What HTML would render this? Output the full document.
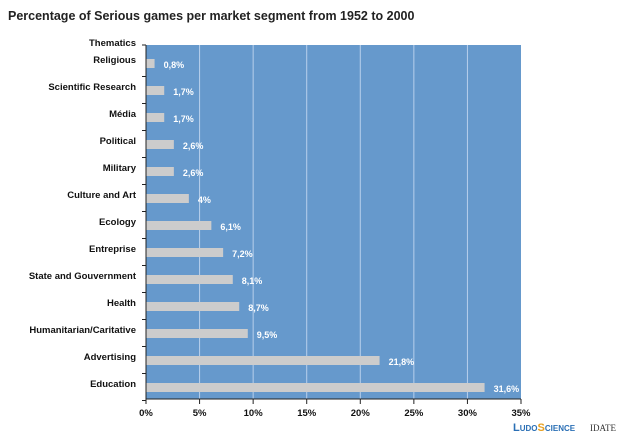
<!DOCTYPE html>
<html><head><meta charset="utf-8"><style>
body{margin:0;background:#fff;width:640px;height:436px;overflow:hidden;font-family:"Liberation Sans",sans-serif}
</style></head><body>
<svg id="c" width="640" height="436" xmlns="http://www.w3.org/2000/svg">
<text x="8" y="20" font-size="12.5" font-weight="bold" fill="#222">Percentage of Serious games per market segment from 1952 to 2000</text>
<text x="136" y="46" font-size="9.5" font-weight="bold" text-anchor="end" fill="#111">Thematics</text>
<rect x="146" y="45" width="375" height="354" fill="#6699cc"/>
<g id="grid"></g><g id="bars"></g><g id="axes"></g>
<text x="513" y="431" font-size="11" font-weight="bold" fill="#2a6fb5">L<tspan font-size="8">UDO</tspan><tspan fill="#e8a020">S</tspan><tspan font-size="8">CIENCE</tspan></text>
<text x="590" y="431" font-size="9" fill="#333" font-family="Liberation Serif,serif">IDATE</text>
</svg>
<script>
const categories=["Religious","Scientific Research","Média","Political","Military","Culture and Art","Ecology","Entreprise","State and Gouvernment","Health","Humanitarian/Caritative","Advertising","Education"];
const values=[0.8,1.7,1.7,2.6,2.6,4,6.1,7.2,8.1,8.7,9.5,21.8,31.6];
const valueLabels=["0,8%","1,7%","1,7%","2,6%","2,6%","4%","6,1%","7,2%","8,1%","8,7%","9,5%","21,8%","31,6%"];
const ticks=[0,5,10,15,20,25,30,35];
const NS="http://www.w3.org/2000/svg";
const x=v=>146+v*(375/35);
const y=i=>63+i*27;
function mk(t,a,p){const e=document.createElementNS(NS,t);for(const k in a)e.setAttribute(k,a[k]);p.appendChild(e);return e;}
const g=document.getElementById('grid'),b=document.getElementById('bars'),ax=document.getElementById('axes');
ticks.forEach(t=>{
 if(t>0&&t<35){const l=mk('line',{x1:x(t),x2:x(t),y1:45,y2:399,stroke:'#b8d0ec','stroke-width':1},g);
 
 }
 const tk=mk('line',{x1:x(t),x2:x(t),y1:399,y2:404,stroke:'#222'},ax);
 
 
 const tx=mk('text',{x:x(t),y:416,'font-size':9.5,'font-weight':'bold','text-anchor':'middle',fill:'#111'},ax);
 tx.textContent=t+'%';
 
 
});
categories.forEach((c,i)=>{
 const r=mk('rect',{x:146,y:y(i)-4,width:x(values[i])-146,height:9,fill:'#cccccc'},b);
 
 
 const v=mk('text',{x:x(values[i])+9,y:y(i)+5,'font-size':9,'font-weight':'bold',fill:'#fff'},b);
 v.textContent=valueLabels[i];
 
 
 const l=mk('text',{x:136,y:y(i),'font-size':9.5,'font-weight':'bold','text-anchor':'end',fill:'#111'},ax);
 l.textContent=c;
 
 
 const tk=mk('line',{x1:142,x2:146,y1:y(i)+13.5,y2:y(i)+13.5,stroke:'#222'},ax);
 
 
});
const ya=mk('line',{x1:146,x2:146,y1:45,y2:399,stroke:'#222'},ax);


const xa=mk('line',{x1:146,x2:521,y1:399,y2:399,stroke:'#222'},ax);


const t0=mk('line',{x1:142,x2:146,y1:45,y2:45,stroke:'#222'},ax);


</script>
</body></html>
